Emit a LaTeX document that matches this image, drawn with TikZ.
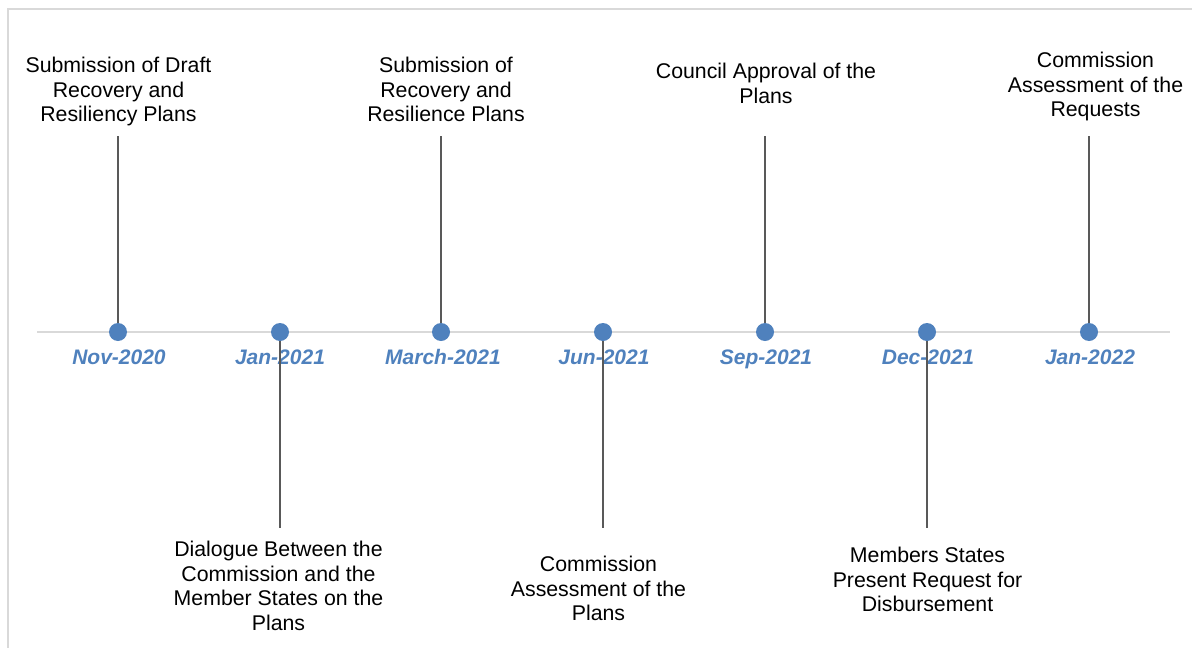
\documentclass[tikz,border=0pt]{standalone}
\usepackage{fontspec}
\setmainfont{Liberation Sans}
\definecolor{milestone}{HTML}{4F81BD}
\definecolor{axisgray}{HTML}{D9D9D9}
\definecolor{stemgray}{HTML}{595959}
\begin{document}
\begin{tikzpicture}[x=1pt,y=-1pt,
  event/.style={circle,fill=milestone,draw=none,minimum size=18pt,inner sep=0pt},
  datelabel/.style={anchor=base,inner sep=0pt,text=milestone,
    font=\fontsize{21}{24}\selectfont\bfseries\itshape},
  caption/.style={anchor=north,inner sep=0pt,align=center,text=black,
    font=\fontsize{21.3}{24.5}\selectfont},
  stem/.style={draw=stemgray,line width=1.8pt},
  axisline/.style={draw=axisgray,line width=2pt}]
\useasboundingbox (0,0) rectangle (1192,648);
\clip (0,0) rectangle (1192,648);
% outer frame
\draw[axisgray,line width=2pt] (8,9) rectangle (1220,680);
% time axis
\coordinate (axL) at (37,332);
\coordinate (axR) at (1170,332);
\draw[axisline] (axL) -- (axR);
% date labels
\node[datelabel] (l1) at (119,364.5) {Nov-2020};
\node[datelabel] (l2) at (280,364.5) {Jan-2021};
\node[datelabel] (l3) at (443,364.5) {March-2021};
\node[datelabel] (l4) at (604,364.5) {Jun-2021};
\node[datelabel] (l5) at (766,364.5) {Sep-2021};
\node[datelabel] (l6) at (928,364.5) {Dec-2021};
\node[datelabel] (l7) at (1090,364.5) {Jan-2022};
% milestone captions
\node[caption] (t1) at (118.5,57.3) {Submission of Draft\\Recovery and\\Resiliency Plans};
\node[caption] (t2) at (278.5,541.3) {Dialogue Between the\\Commission and the\\Member States on the\\Plans};
\node[caption] (t3) at (446,57.3) {Submission of\\Recovery and\\Resilience Plans};
\node[caption] (t4) at (598.5,556.3) {Commission\\Assessment of the\\Plans};
\node[caption] (t5) at (766,63.3) {Council Approval of the\\Plans};
\node[caption] (t6) at (927.5,547.3) {Members States\\Present Request for\\Disbursement};
\node[caption] (t7) at (1095.5,52.3) {Commission\\Assessment of the\\Requests};
% milestone markers
\coordinate (p1) at (118,332);
\coordinate (p2) at (280,332);
\coordinate (p3) at (441,332);
\coordinate (p4) at (603,332);
\coordinate (p5) at (765,332);
\coordinate (p6) at (927,332);
\coordinate (p7) at (1089,332);
% stem ends
\coordinate (s1) at (118,136);
\coordinate (s2) at (280,528);
\coordinate (s3) at (441,136);
\coordinate (s4) at (603,528);
\coordinate (s5) at (765,136);
\coordinate (s6) at (927,528);
\coordinate (s7) at (1089,136);
\foreach \i in {1,...,7}{
  \draw[stem] (p\i) -- (s\i);
}
\foreach \i in {1,...,7}{
  \node[event] (d\i) at (p\i) {};
}
\end{tikzpicture}
\end{document}
